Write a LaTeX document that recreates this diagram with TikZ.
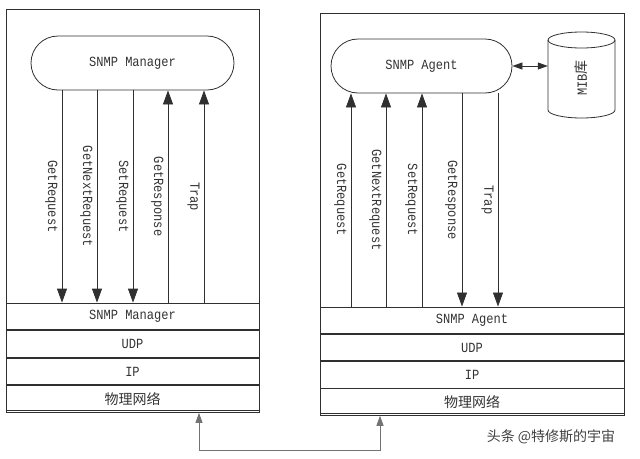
\documentclass[tikz,border=0pt]{standalone}
\usepackage{fontspec}
\newfontfamily\monofnt[FakeStretch=0.86]{Liberation Mono}
\newfontfamily\cjkfnt{Noto Sans CJK SC}
\usetikzlibrary{
  arrows.meta,
  positioning, calc
}
\definecolor{linegray}{HTML}{303030}
\definecolor{txtgray}{HTML}{333333}
\tikzset{
  stadium/.style={rectangle,rounded corners=27pt,draw=linegray,line width=0.8pt,
    minimum height=54pt,text=txtgray,font=\monofnt\fontsize{14}{16}\selectfont},
  layer/.style={rectangle,draw=linegray,line width=0.8pt,inner sep=0pt,
    text=txtgray,font=\monofnt\fontsize{14}{16}\selectfont},
  cjklayer/.style={layer,font=\cjkfnt\fontsize{14}{16}\selectfont},
  mibtxt/.style={rectangle,rotate=90,minimum width=70pt,minimum height=67pt,
    inner sep=0pt,text=txtgray,font=\monofnt\fontsize{14}{16}\selectfont},
  outline/.style={draw=linegray,line width=0.8pt},
  msg/.style={-{Triangle[length=14pt,width=10pt]},draw=linegray,line width=0.8pt},
  msglbl/.style={rotate=-90,anchor=north,inner sep=4pt,text=txtgray,
    font=\monofnt\fontsize{14}{16}\selectfont},
  dbl/.style={{Triangle[length=10pt,width=7pt]}-{Triangle[length=10pt,width=7pt]},
    draw=linegray,line width=0.8pt},
  wire/.style={{Triangle[length=10pt,width=7pt]}-{Triangle[length=10pt,width=7pt]},
    draw=gray!90!black,line width=0.8pt}
}

\begin{document}
\begin{tikzpicture}[x=1pt,y=-1pt]
  \useasboundingbox (0,0) rectangle (640,458);

  % Manager side
  \draw[outline] (6,9) rectangle (259,410);
  \node[stadium,minimum width=203pt] (mgr) at (132.5,63) {SNMP Manager};
  \node[layer,minimum width=253pt,minimum height=26.75pt] (mL1) at (132.5,316.4) {SNMP Manager};
  \node[layer,minimum width=253pt,minimum height=26.75pt,below=0pt of mL1] (mL2) {UDP};
  \node[layer,minimum width=253pt,minimum height=26.75pt,below=0pt of mL2] (mL3) {IP};
  \node[cjklayer,minimum width=253pt,minimum height=26.75pt,below=0pt of mL3] (mL4) {物理网络};

  \foreach \i/\x/\lbl in {1/62/GetRequest,2/97/GetNextRequest,3/133/SetRequest}{
    \coordinate (m\i) at (\x,0);
    \draw[msg] (mgr.south -| m\i) -- node[msglbl] {\lbl} (m\i |- mL1.north);
  }
  \foreach \i/\x/\lbl in {4/168/GetResponse,5/204/Trap}{
    \coordinate (m\i) at (\x,0);
    \draw[msg] (m\i |- mL1.north) -- node[msglbl] {\lbl} (mgr.south -| m\i);
  }

  % Agent side
  \draw[outline] (320,13) rectangle (624,413);
  \node[stadium,minimum width=181pt] (agt) at (421.5,66) {SNMP Agent};

  % MIB store
  \node[mibtxt] (mib) at (581.5,78) {MIB{\cjkfnt 库}};
  \draw[outline] (581.5,40) ellipse[x radius=33.5,y radius=8];
  \draw[outline] (548,40) -- (548,110) arc[start angle=180,end angle=0,x radius=33.5,y radius=8] -- (615,40);
  \draw[dbl] (agt.east) -- (agt.east -| mib.north);

  \node[layer,minimum width=304pt,minimum height=26.5pt] (aL1) at (472,320.2) {SNMP Agent};
  \node[layer,minimum width=304pt,minimum height=26.5pt,below=0pt of aL1] (aL2) {UDP};
  \node[layer,minimum width=304pt,minimum height=26.5pt,below=0pt of aL2] (aL3) {IP};
  \node[cjklayer,minimum width=304pt,minimum height=26.5pt,below=0pt of aL3] (aL4) {物理网络};

  \foreach \i/\x/\lbl in {1/351/GetRequest,2/386/GetNextRequest,3/422/SetRequest}{
    \coordinate (a\i) at (\x,0);
    \draw[msg] (a\i |- aL1.north) -- node[msglbl] {\lbl} (agt.south -| a\i);
  }
  \foreach \i/\x/\lbl in {4/462/GetResponse,5/498/Trap}{
    \coordinate (a\i) at (\x,0);
    \draw[msg] (agt.south -| a\i) -- node[msglbl] {\lbl} (a\i |- aL1.north);
  }

  % Physical link
  \coordinate (p1) at (199,450);
  \coordinate (p2) at (380,450);
  \draw[wire] (mL4.south -| p1) -- (p1) -- (p2) -- (aL4.south -| p2);

  % Watermark
  \node[font=\cjkfnt\fontsize{14}{16}\selectfont,text=black!75] (wm) at (551,437) {头条 @特修斯的宇宙};

\end{tikzpicture}
\end{document}
